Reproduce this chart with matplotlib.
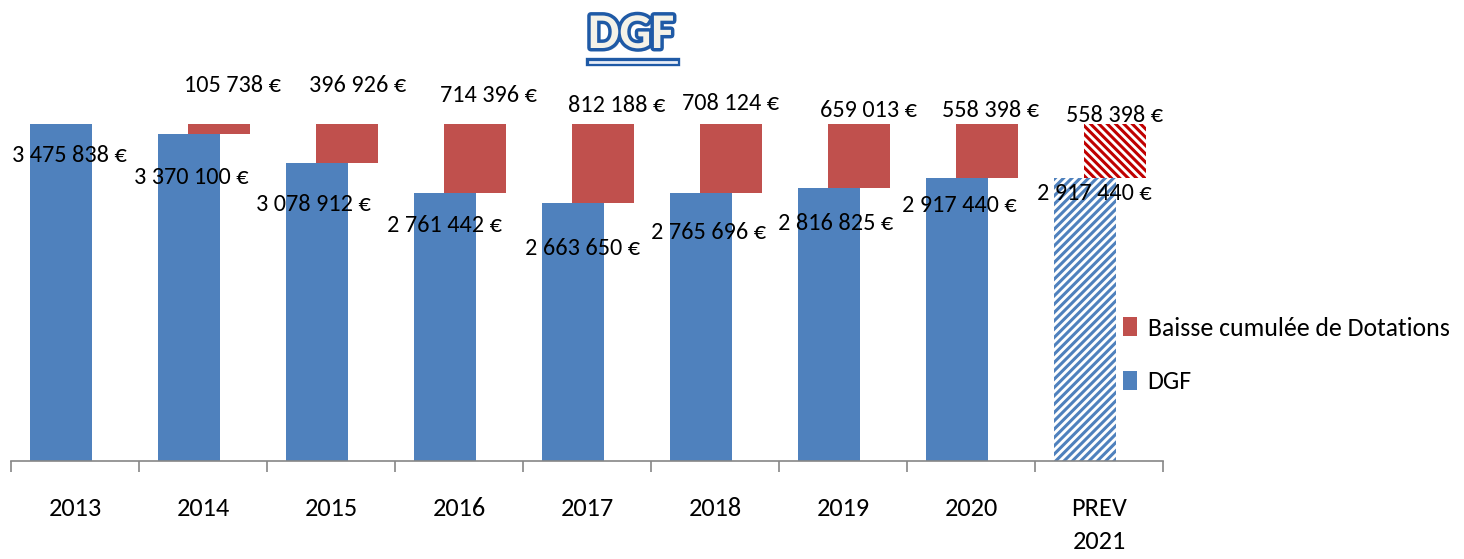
import matplotlib
matplotlib.use("Agg")
import matplotlib.pyplot as plt
import matplotlib.patheffects as pe
from matplotlib.lines import Line2D
from matplotlib.patches import Patch

plt.rcParams['font.family'] = ['Carlito', 'Liberation Sans Narrow', 'DejaVu Sans']
plt.rcParams['hatch.linewidth'] = 2.2

categories = ["2013", "2014", "2015", "2016", "2017", "2018", "2019", "2020", "PREV\n2021"]
dgf = [3475838, 3370100, 3078912, 2761442, 2663650, 2765696, 2816825, 2917440, 2917440]
baisse = [0, 105738, 396926, 714396, 812188, 708124, 659013, 558398, 558398]
dgf_labels = ["3 475 838 €", "3 370 100 €", "3 078 912 €", "2 761 442 €", "2 663 650 €",
              "2 765 696 €", "2 816 825 €", "2 917 440 €", "2 917 440 €"]
baisse_labels = ["", "105 738 €", "396 926 €", "714 396 €", "812 188 €", "708 124 €",
                 "659 013 €", "558 398 €", "558 398 €"]

# label placement (pixel offsets)
dgf_dx = [9, 2, -3, 0, 10, 8, 7, 2, 9]
dgf_dy = [-31, -43, -42, -32, -46, -40, -36, -27, -15]
red_dx = [0, 13, 11, 14, 14, 0, 9, 4, 0]
red_dy = [0, 39, 39, 29, 19, 21, 14, 14, 9]

BLUE = '#4F81BD'
RED = '#C0504D'
RED_H = '#C00000'

fig = plt.figure(figsize=(14.64, 5.59), dpi=100)
ax = fig.add_axes([11/1464, 98/559, (1163-11)/1464, 0.869 - 98/559])

n = len(categories)
xs = list(range(n))
w = 0.49
off_b = -0.11
off_r = 0.125
px2pt = 0.72
LBL = 17.5

for i in xs:
    forecast = (i == n - 1)
    if forecast:
        ax.bar(i + off_b, dgf[i], width=w, color='white', edgecolor=BLUE, hatch='////', linewidth=0)
        ax.bar(i + off_r, baisse[i], bottom=dgf[i], width=w, color='white', edgecolor=RED_H,
               hatch='\\\\\\\\', linewidth=0)
    else:
        ax.bar(i + off_b, dgf[i], width=w, color=BLUE, linewidth=0)
        if baisse[i] > 0:
            ax.bar(i + off_r, baisse[i], bottom=dgf[i], width=w, color=RED, linewidth=0)

for i in xs:
    ax.annotate(dgf_labels[i], (i + off_b, dgf[i]), xytext=(dgf_dx[i]*px2pt, dgf_dy[i]*px2pt),
                textcoords='offset points', ha='center', va='center', fontsize=LBL, color='black')
    if baisse_labels[i]:
        top = dgf[i] + baisse[i]
        ax.annotate(baisse_labels[i], (i + off_r, top), xytext=(red_dx[i]*px2pt, red_dy[i]*px2pt),
                    textcoords='offset points', ha='center', va='center', fontsize=LBL, color='black')

ax.set_xlim(-0.5, n - 0.5)
ax.set_ylim(0, 4000000)
ax.set_yticks([])
for s in ['top', 'right', 'left']:
    ax.spines[s].set_visible(False)
ax.spines['bottom'].set_color('#868686')
ax.spines['bottom'].set_linewidth(1.2)
ax.set_xticks([i - 0.5 for i in range(n + 1)], minor=False)
ax.set_xticklabels([])
ax.tick_params(axis='x', which='major', length=8, width=1.2, color='#868686', direction='out')
ax.set_xticks(xs, minor=True)
ax.set_xticklabels(categories, minor=True, fontsize=19, linespacing=1.5)
ax.tick_params(axis='x', which='minor', length=0, pad=26)

# title
t = fig.text(631/1464, 1 - 34/559, "DGF", ha='center', va='center', fontsize=36, fontweight='bold',
             color='#F4F2E8')
t.set_path_effects([pe.SimplePatchShadow(offset=(2, -2), shadow_rgbFace='#BBBBBB', alpha=0.6),
                    pe.withStroke(linewidth=5, foreground='#1F5AA6')])
ul = Line2D([590/1464, 676/1464], [1 - 62/559, 1 - 62/559], transform=fig.transFigure,
            color='#E8EEF8', linewidth=2)
ul.set_path_effects([pe.Stroke(linewidth=6, foreground='#1F5AA6'), pe.Normal()])
fig.add_artist(ul)

handles = [Patch(facecolor=RED, edgecolor='none'), Patch(facecolor=BLUE, edgecolor='none')]
fig.legend(handles, ["Baisse cumulée de Dotations", "DGF"], loc='center left',
           bbox_to_anchor=(1100/1464, 1 - 355/559), frameon=False, fontsize=18.5,
           handlelength=0.55, handleheight=0.75, handletextpad=0.4, labelspacing=1.2)

fig.savefig("out.png", dpi=100)
